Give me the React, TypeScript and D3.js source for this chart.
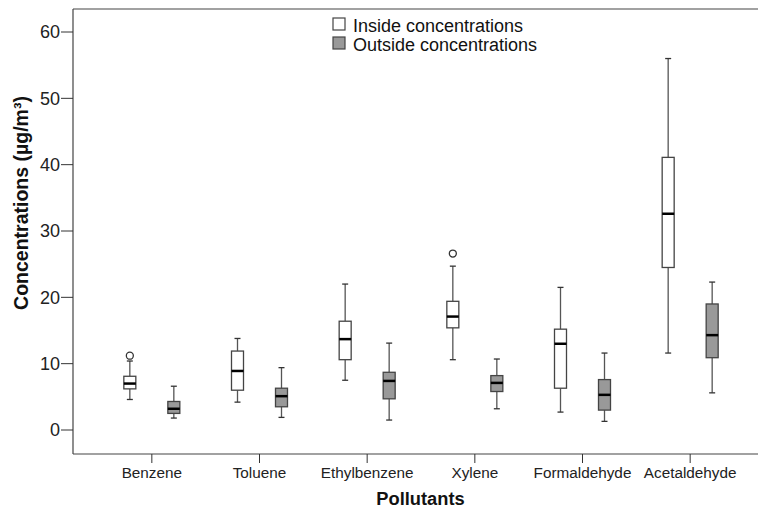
import * as d3 from "d3";

// five-number summaries: [whiskerLow, q1, median, q3, whiskerHigh]
const categories = ["Benzene", "Toluene", "Ethylbenzene", "Xylene", "Formaldehyde", "Acetaldehyde"];
const series = ["Inside concentrations", "Outside concentrations"];

const insideStats = [
  [4.6, 6.2, 7.0, 8.1, 10.4],
  [4.2, 6.0, 8.9, 11.9, 13.8],
  [7.5, 10.6, 13.7, 16.4, 22.0],
  [10.6, 15.4, 17.1, 19.4, 24.7],
  [2.7, 6.3, 13.0, 15.2, 21.5],
  [11.6, 24.5, 32.6, 41.1, 56.0],
];
const outsideStats = [
  [1.8, 2.5, 3.2, 4.3, 6.6],
  [1.9, 3.5, 5.1, 6.3, 9.4],
  [1.5, 4.7, 7.4, 8.7, 13.1],
  [3.2, 5.8, 7.1, 8.2, 10.7],
  [1.3, 3.0, 5.3, 7.6, 11.6],
  [5.6, 10.9, 14.3, 19.0, 22.3],
];
// outliers: [categoryIndex, value]
const insideOutliers = [[0, 11.2], [3, 26.6]];
const outsideOutliers: number[][] = [];

const yTicks = [0, 10, 20, 30, 40, 50, 60];
const fills = ["#ffffff", "#999999"];

const W = 758;
const H = 511;
const frame = { left: 73, top: 9, bottom: 454, right: 758 };

export default function App() {
  const y = d3.scaleLinear().domain([0, 60]).range([430, 32]);
  const x = d3.scaleBand().domain(categories).range([98, 744]).padding(0);
  const offset = d3.scalePoint().domain(series).range([-22, 22]);
  const boxW = 12;
  const capW = 6;
  const font = "Arial, 'Liberation Sans', sans-serif";

  const allStats = [insideStats, outsideStats];
  const allOutliers = [insideOutliers, outsideOutliers];

  return (
    <div style={{ position: "absolute", left: 0, top: 0 }}>
      <svg width={W} height={H} style={{ display: "block", background: "#fff" }} fontFamily={font}>
        {/* frame */}
        <line x1={frame.left} x2={frame.right} y1={frame.top} y2={frame.top} stroke="#444" strokeWidth={1.2} />
        <line x1={frame.left} x2={frame.right} y1={frame.bottom} y2={frame.bottom} stroke="#444" strokeWidth={1.2} />
        <line x1={frame.left} x2={frame.left} y1={frame.top} y2={frame.bottom} stroke="#444" strokeWidth={1.2} />

        {/* y axis */}
        {yTicks.map((t) => (
          <g key={t}>
            <line x1={frame.left - 12} x2={frame.left} y1={y(t)} y2={y(t)} stroke="#333" strokeWidth={1} />
            <text x={frame.left - 13} y={y(t)} dy="0.35em" textAnchor="end" fontSize={18} fill="#222">
              {t}
            </text>
          </g>
        ))}
        <text
          transform={`translate(28, 203) rotate(-90)`}
          textAnchor="middle"
          fontSize={19.5}
          fontWeight="bold"
          fill="#111"
        >
          Concentrations (µg/m³)
        </text>

        {/* x axis */}
        {categories.map((c) => {
          const cx = (x(c) as number) + x.bandwidth() / 2;
          return (
            <g key={c}>
              <line x1={cx} x2={cx} y1={frame.bottom} y2={frame.bottom + 9} stroke="#333" strokeWidth={1} />
              <text x={cx} y={478} textAnchor="middle" fontSize={15.3} fill="#222">
                {c}
              </text>
            </g>
          );
        })}
        <text x={420.5} y={505} textAnchor="middle" fontSize={18.3} fontWeight="bold" fill="#111">
          Pollutants
        </text>

        {/* boxes */}
        {series.map((s, si) =>
          categories.map((c, ci) => {
            const [lo, q1, med, q3, hi] = allStats[si][ci];
            const cx = (x(c) as number) + x.bandwidth() / 2 + (offset(s) as number);
            return (
              <g key={s + c}>
                <line x1={cx} x2={cx} y1={y(hi)} y2={y(q3)} stroke="#555" strokeWidth={1.3} />
                <line x1={cx} x2={cx} y1={y(q1)} y2={y(lo)} stroke="#555" strokeWidth={1.3} />
                <line x1={cx - capW / 2} x2={cx + capW / 2} y1={y(hi)} y2={y(hi)} stroke="#333" strokeWidth={1.3} />
                <line x1={cx - capW / 2} x2={cx + capW / 2} y1={y(lo)} y2={y(lo)} stroke="#333" strokeWidth={1.3} />
                <rect
                  x={cx - boxW / 2}
                  y={y(q3)}
                  width={boxW}
                  height={y(q1) - y(q3)}
                  fill={fills[si]}
                  stroke="#444"
                  strokeWidth={1.3}
                />
                <line x1={cx - boxW / 2} x2={cx + boxW / 2} y1={y(med)} y2={y(med)} stroke="#000" strokeWidth={2.5} />
              </g>
            );
          })
        )}

        {/* outliers */}
        {series.map((s, si) =>
          allOutliers[si].map(([ci, v], i) => {
            const c = categories[ci];
            const cx = (x(c) as number) + x.bandwidth() / 2 + (offset(s) as number);
            return <circle key={s + i} cx={cx} cy={y(v)} r={3.5} fill="none" stroke="#333" strokeWidth={1.3} />;
          })
        )}

        {/* legend */}
        {series.map((s, si) => (
          <g key={s} transform={`translate(333, ${18 + si * 19})`}>
            <rect x={0} y={0} width={12} height={12} fill={fills[si]} stroke="#444" strokeWidth={1.2} />
            <text x={20} y={13.5} fontSize={18} fill="#111">
              {s}
            </text>
          </g>
        ))}
      </svg>
    </div>
  );
}
